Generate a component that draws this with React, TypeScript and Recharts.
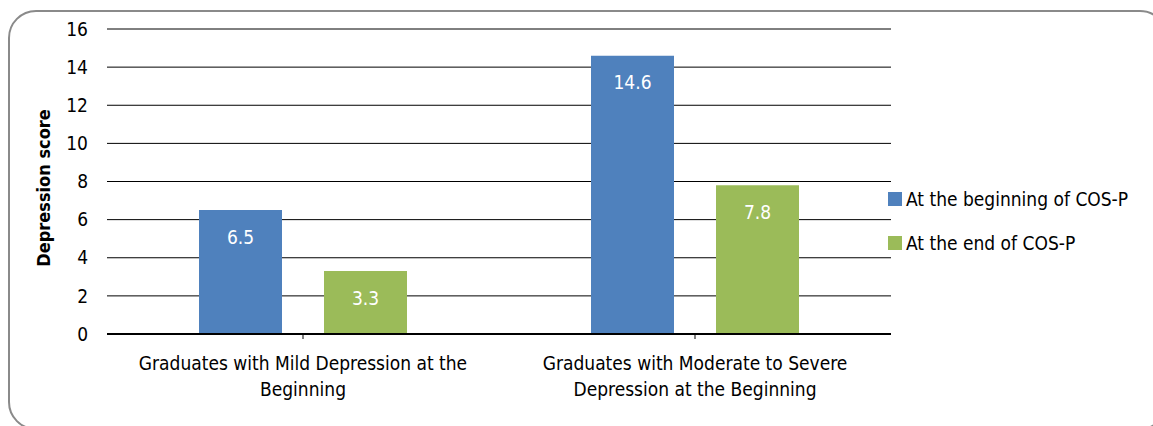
import { BarChart, Bar, XAxis, YAxis, CartesianGrid, Legend, LabelList, Label } from 'recharts'

const CATEGORIES = [
  'Graduates with Mild Depression at the Beginning',
  'Graduates with Moderate to Severe Depression at the Beginning',
]
const CATEGORY_LINES = [
  ['Graduates with Mild Depression at the', 'Beginning'],
  ['Graduates with Moderate to Severe', 'Depression at the Beginning'],
]
const BEGINNING = [6.5, 14.6]
const END = [3.3, 7.8]
const Y_TICKS = [0, 2, 4, 6, 8, 10, 12, 14, 16]

const SERIES = [
  { key: 'beginning', name: 'At the beginning of COS-P', color: '#4F81BD' },
  { key: 'end', name: 'At the end of COS-P', color: '#9BBB59' },
]

const FONT = '"Liberation Sans Narrow", "DejaVu Sans Condensed", "Arial Narrow", sans-serif'

const data = CATEGORIES.map((c, i) => ({ name: c, beginning: BEGINNING[i], end: END[i] }))

function CategoryTick(props: any) {
  const { x, y, payload } = props
  const lines = CATEGORY_LINES[payload.index] ?? [payload.value]
  return (
    <text x={x} y={y} textAnchor="middle" fill="#000" fontSize={19} fontFamily={FONT}>
      {lines.map((l, i) => (
        <tspan key={i} x={x} dy={i === 0 ? 29 : 26}>
          {l}
        </tspan>
      ))}
    </text>
  )
}

function LegendBox() {
  return (
    <div style={{ fontFamily: FONT, fontSize: 19, color: '#000' }}>
      {SERIES.map((s) => (
        <div key={s.key} style={{ display: 'flex', alignItems: 'center', height: 44 }}>
          <span style={{ width: 14, height: 14, background: s.color, marginRight: 4, display: 'inline-block' }} />
          {s.name}
        </div>
      ))}
    </div>
  )
}

export default function App() {
  return (
    <div style={{ position: 'absolute', left: 0, top: 0, width: 1153, height: 426, overflow: 'hidden', background: '#fff' }}>
      <div
        style={{
          position: 'absolute', left: 8, top: 10, width: 1160, height: 420,
          border: '2px solid #8a8a8a', borderRadius: 28, boxSizing: 'border-box',
        }}
      />
      <div style={{ position: 'absolute', left: 0, top: 0 }}>
        <BarChart
          width={1153}
          height={426}
          data={data}
          margin={{ top: 29, right: 2, bottom: 62, left: 0 }}
          barSize={83}
          barGap={42}
        >
          <CartesianGrid vertical={false} stroke="#000" strokeWidth={1} />
          <XAxis
            dataKey="name"
            tick={<CategoryTick />}
            axisLine={{ stroke: '#000', strokeWidth: 2 }}
            tickLine={{ stroke: '#000' }}
            tickSize={5}
            interval={0}
          />
          <YAxis
            width={107}
            domain={[0, 16]}
            ticks={Y_TICKS}
            interval={0}
            axisLine={false}
            tickLine={false}
            tickSize={0}
            tickMargin={19}
            tick={{ fill: '#000', fontSize: 19, fontFamily: FONT }}
          >
            <Label
              content={() => (
                <text
                  x={43}
                  y={188}
                  transform="rotate(-90 43 188)"
                  textAnchor="middle"
                  dominantBaseline="central"
                  fontFamily={FONT}
                  fontWeight="bold"
                  fontSize={18}
                  fill="#000"
                >
                  Depression score
                </text>
              )}
            />
          </YAxis>
          <Legend
            layout="vertical"
            align="right"
            verticalAlign="middle"
            content={<LegendBox />}
            wrapperStyle={{ left: 888, right: 'auto', top: 177, width: 260 }}
          />
          {SERIES.map((s) => (
            <Bar key={s.key} dataKey={s.key} name={s.name} fill={s.color} isAnimationActive={false}>
              <LabelList
                dataKey={s.key}
                position="insideTop"
                offset={20}
                fill="#fff"
                fontSize={19}
                fontFamily={FONT}
              />
            </Bar>
          ))}
        </BarChart>
      </div>
    </div>
  )
}
